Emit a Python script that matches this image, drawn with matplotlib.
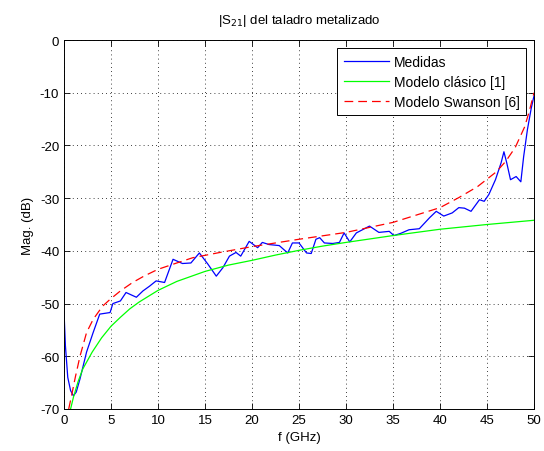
"""|S21| of the plated via: measured vs models"""
import matplotlib
matplotlib.use("Agg")
import matplotlib.pyplot as plt

plt.rcParams['font.family'] = ['Liberation Sans', 'DejaVu Sans']
plt.rcParams['axes.unicode_minus'] = False

# Measured data (GHz, dB)
f_meas = [0.0, 0.15, 0.4, 0.7, 1.0, 1.3, 1.7, 2.4, 3.1, 3.8, 4.9, 5.2, 6.0, 6.6, 7.7,
          8.4, 9.1, 9.8, 10.7, 11.6, 12.6, 13.5, 14.4, 15.3, 16.2, 16.9, 17.6, 18.3,
          18.8, 19.7, 20.6, 21.1, 21.8, 22.9, 23.8, 24.3, 25.0, 25.8, 26.3, 26.8,
          27.2, 27.7, 28.6, 29.3, 29.8, 30.4, 31.1, 32.5, 33.5, 34.6, 35.1, 35.8,
          36.7, 37.8, 38.9, 39.6, 40.4, 41.3, 42.0, 42.6, 43.3, 44.2, 44.7, 45.2,
          45.9, 46.5, 46.8, 47.1, 47.5, 48.1, 48.6, 48.9, 49.3, 49.7, 50.0]
s21_meas = [-51.5, -58.0, -64.0, -66.5, -67.5, -66.8, -64.3, -59.2, -55.5, -52.0,
            -51.7, -50.0, -49.5, -47.9, -48.8, -47.6, -46.7, -45.7, -46.0, -41.6,
            -42.4, -42.3, -40.4, -42.5, -44.8, -43.2, -41.0, -40.3, -41.0, -38.2,
            -39.4, -38.4, -38.8, -39.0, -40.4, -38.5, -38.5, -40.4, -40.5, -37.8,
            -37.5, -38.5, -38.6, -38.4, -36.6, -38.3, -36.6, -35.3, -36.5, -36.3,
            -37.1, -36.7, -36.0, -35.8, -33.7, -32.5, -33.4, -32.8, -31.8, -31.9,
            -32.5, -30.3, -30.6, -29.3, -26.5, -23.3, -21.2, -23.3, -26.5, -25.9,
            -26.9, -22.1, -17.0, -13.0, -10.6]

# Classic model [1]
f_clas = [0.7, 1.0, 1.5, 2.0, 3.0, 4.0, 5.0, 6.0, 7.0, 8.0, 10.0, 12.0, 15.0, 17.5,
          20.0, 22.5, 25.0, 27.5, 30.0, 35.0, 40.0, 45.0, 50.0]
s21_clas = [-70.0, -67.8, -64.8, -62.4, -59.2, -56.5, -54.3, -52.6, -51.0, -49.7,
            -47.5, -45.8, -43.9, -42.7, -41.8, -40.8, -39.9, -39.1, -38.4, -37.1,
            -35.9, -35.0, -34.2]

# Swanson model [6]
f_swan = [0.5, 0.8, 1.2, 1.7, 2.4, 3.1, 4.1, 4.9, 6.0, 7.3, 8.5, 10.0, 12.0, 13.7,
          16.6, 20.0, 25.0, 30.0, 35.0, 40.0, 42.0, 44.0, 46.0, 47.0, 48.0, 49.0,
          49.5, 50.0]
s21_swan = [-70.0, -67.5, -64.0, -60.0, -55.5, -53.0, -50.5, -49.2, -47.6, -46.0,
            -44.8, -43.5, -42.3, -41.3, -40.3, -39.2, -37.8, -36.5, -34.6, -31.8,
            -29.9, -27.8, -25.0, -23.0, -20.4, -16.5, -13.5, -10.0]

fig = plt.figure(figsize=(5.44, 4.52), dpi=100)
ax = fig.add_axes([64 / 544, 42 / 452, 470 / 544, 369 / 452])

ax.plot(f_meas, s21_meas, color='#0000ff', lw=0.9, label='Medidas')
ax.plot(f_clas, s21_clas, color='#00ff00', lw=0.9, label='Modelo clásico [1]')
ax.plot(f_swan, s21_swan, color='#ff0000', lw=0.9, ls=(0, (7, 4)), label='Modelo Swanson [6]')

ax.set_xlim(0, 50)
ax.set_ylim(-70, 0)
ax.set_xticks(range(0, 51, 5))
ax.set_yticks(range(-70, 1, 10))
ax.tick_params(direction='in', top=True, right=True, labelsize=9.5, length=4, width=0.6)
ax.grid(True, color='k', ls=(0, (1, 4)), lw=0.6)
for s in ax.spines.values():
    s.set_linewidth(0.7)

ax.set_xlabel('f (GHz)', fontsize=9.5)
ax.set_ylabel('Mag. (dB)', fontsize=9.5)
ax.set_title(r'|S$_{21}$| del taladro metalizado', fontsize=9.5, pad=12)

leg = ax.legend(loc='upper right', fontsize=10, fancybox=False, framealpha=1,
                edgecolor='k', handlelength=3.3, handletextpad=0.3,
                labelspacing=0.45, borderaxespad=0.6, borderpad=0.45)
leg.get_frame().set_linewidth(0.7)

fig.savefig('out.png', dpi=100)
plt.close()
